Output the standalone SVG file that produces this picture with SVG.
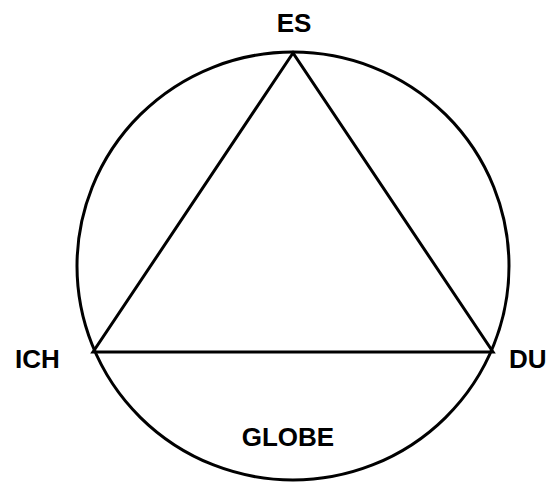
<svg xmlns="http://www.w3.org/2000/svg" width="547" height="483" viewBox="0 0 547 483">
<style>
.l{fill:none;stroke:#000;stroke-width:3;stroke-linejoin:miter}
text{font-family:"Liberation Sans",Arial,sans-serif;font-weight:bold;font-size:26px;fill:#000}
</style>
<rect width="547" height="483" fill="#fff"/>
<g id="globe"><ellipse class="l" cx="293" cy="266" rx="216" ry="214"/><text x="288" y="446" text-anchor="middle">GLOBE</text></g>
<g id="connectors"><polygon class="l" points="293,53 93,352 493,352"/></g>
<g id="es"><text x="294" y="32" text-anchor="middle">ES</text></g>
<g id="ich"><text x="15" y="368">ICH</text></g>
<g id="du"><text x="509" y="368">DU</text></g>
</svg>
